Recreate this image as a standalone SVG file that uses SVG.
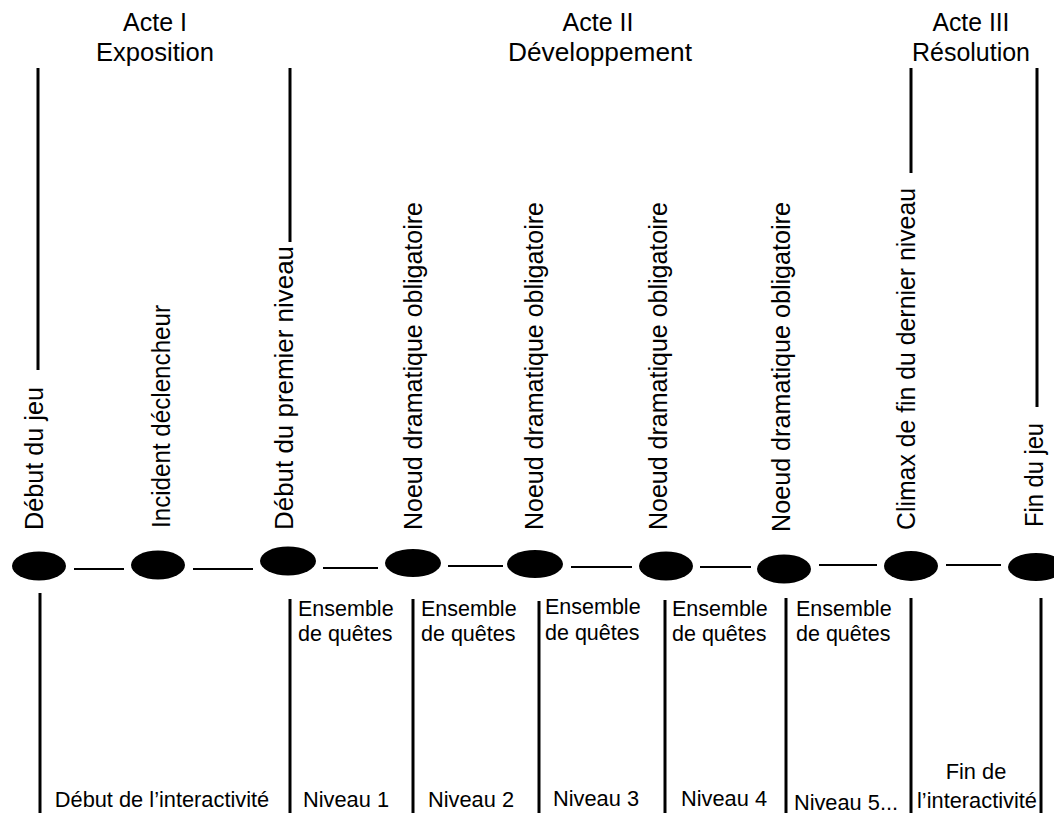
<svg xmlns="http://www.w3.org/2000/svg" width="1054" height="813" viewBox="0 0 1054 813">
<style>
.bg{fill:#fff}
.dot{fill:#000}
.rule{stroke:#000;stroke-width:3;fill:none}
.link{stroke:#000;stroke-width:2;fill:none}
.head{font-family:"Liberation Sans",Arial,sans-serif;font-size:25px;fill:#000;text-anchor:middle}
.vt{font-family:"Liberation Sans",Arial,sans-serif;font-size:26px;fill:#000}
.lb{font-family:"Liberation Sans",Arial,sans-serif;font-size:21.5px;fill:#000}
.lc{font-family:"Liberation Sans",Arial,sans-serif;font-size:21.8px;fill:#000;text-anchor:middle}
</style>
<rect class="bg" x="0" y="0" width="1054" height="813"/>

<g id="headings">
<text class="head" x="155" y="31" textLength="64" lengthAdjust="spacingAndGlyphs">Acte I</text>
<text class="head" x="155" y="61" textLength="118" lengthAdjust="spacingAndGlyphs">Exposition</text>
<text class="head" x="598" y="31" textLength="71" lengthAdjust="spacingAndGlyphs">Acte II</text>
<text class="head" x="600" y="61" textLength="184" lengthAdjust="spacingAndGlyphs">Développement</text>
<text class="head" x="971" y="31" textLength="77" lengthAdjust="spacingAndGlyphs">Acte III</text>
<text class="head" x="971" y="61" textLength="118" lengthAdjust="spacingAndGlyphs">Résolution</text>
</g>

<g id="dividers">
<line class="rule" x1="38" y1="68" x2="38" y2="370"/>
<line class="rule" x1="290" y1="68" x2="290" y2="242"/>
<line class="rule" x1="911" y1="68" x2="911" y2="173"/>
<line class="rule" x1="1037" y1="68" x2="1037" y2="407"/>
<line class="rule" x1="40" y1="593" x2="40" y2="813"/>
<line class="rule" x1="290" y1="599" x2="290" y2="813"/>
<line class="rule" x1="413" y1="599" x2="413" y2="813"/>
<line class="rule" x1="539" y1="601" x2="539" y2="813"/>
<line class="rule" x1="665" y1="600" x2="665" y2="813"/>
<line class="rule" x1="786" y1="598" x2="786" y2="813"/>
<line class="rule" x1="911" y1="598" x2="911" y2="813"/>
<line class="rule" x1="1041" y1="598" x2="1041" y2="813"/>
</g>

<g id="connectors">
<line class="link" x1="74" y1="569" x2="124" y2="569"/>
<line class="link" x1="193" y1="569" x2="253" y2="569"/>
<line class="link" x1="323" y1="568" x2="378" y2="568"/>
<line class="link" x1="448" y1="566" x2="503" y2="566"/>
<line class="link" x1="571" y1="567" x2="632" y2="567"/>
<line class="link" x1="700" y1="567" x2="751" y2="567"/>
<line class="link" x1="819" y1="565" x2="877" y2="565"/>
<line class="link" x1="946" y1="565" x2="1001" y2="565"/>
</g>

<g id="node-debut-jeu">
<ellipse class="dot" cx="39" cy="566" rx="27" ry="14.5"/>
<text class="vt" transform="translate(43,530) rotate(-90)" textLength="143" lengthAdjust="spacingAndGlyphs">Début du jeu</text>
</g>
<g id="node-incident">
<ellipse class="dot" cx="158" cy="565" rx="27" ry="14.5"/>
<text class="vt" transform="translate(170,528) rotate(-90)" textLength="223" lengthAdjust="spacingAndGlyphs">Incident déclencheur</text>
</g>
<g id="node-premier-niveau">
<ellipse class="dot" cx="288" cy="561" rx="28" ry="14.5"/>
<text class="vt" transform="translate(293,530) rotate(-90)" textLength="284" lengthAdjust="spacingAndGlyphs">Début du premier niveau</text>
</g>
<g id="node-noeud-1">
<ellipse class="dot" cx="413" cy="563" rx="28" ry="14"/>
<text class="vt" transform="translate(422,530) rotate(-90)" textLength="328" lengthAdjust="spacingAndGlyphs">Noeud dramatique obligatoire</text>
</g>
<g id="node-noeud-2">
<ellipse class="dot" cx="535" cy="564" rx="28" ry="14"/>
<text class="vt" transform="translate(543,530) rotate(-90)" textLength="328" lengthAdjust="spacingAndGlyphs">Noeud dramatique obligatoire</text>
</g>
<g id="node-noeud-3">
<ellipse class="dot" cx="666" cy="566" rx="27" ry="14.5"/>
<text class="vt" transform="translate(667,530) rotate(-90)" textLength="328" lengthAdjust="spacingAndGlyphs">Noeud dramatique obligatoire</text>
</g>
<g id="node-noeud-4">
<ellipse class="dot" cx="784" cy="569" rx="27" ry="14.5"/>
<text class="vt" transform="translate(790,532) rotate(-90)" textLength="330" lengthAdjust="spacingAndGlyphs">Noeud dramatique obligatoire</text>
</g>
<g id="node-climax">
<ellipse class="dot" cx="911" cy="566" rx="27" ry="15"/>
<text class="vt" transform="translate(915,530) rotate(-90)" textLength="342" lengthAdjust="spacingAndGlyphs">Climax de fin du dernier niveau</text>
</g>
<g id="node-fin-jeu">
<ellipse class="dot" cx="1036" cy="567" rx="28" ry="14"/>
<text class="vt" transform="translate(1043,527) rotate(-90)" textLength="104" lengthAdjust="spacingAndGlyphs">Fin du jeu</text>
</g>

<g id="quest-sets">
<text class="lb" x="298" y="616">Ensemble</text>
<text class="lb" x="298" y="641">de quêtes</text>
<text class="lb" x="421" y="616">Ensemble</text>
<text class="lb" x="421" y="641">de quêtes</text>
<text class="lb" x="545" y="614">Ensemble</text>
<text class="lb" x="545" y="640">de quêtes</text>
<text class="lb" x="672" y="616">Ensemble</text>
<text class="lb" x="672" y="641">de quêtes</text>
<text class="lb" x="796" y="616">Ensemble</text>
<text class="lb" x="796" y="641">de quêtes</text>
</g>

<g id="levels">
<text class="lc" x="162" y="807">Début de l’interactivité</text>
<text class="lc" x="346" y="807">Niveau 1</text>
<text class="lc" x="471" y="807">Niveau 2</text>
<text class="lc" x="596" y="806">Niveau 3</text>
<text class="lc" x="724" y="806">Niveau 4</text>
<text class="lc" x="846" y="810">Niveau 5...</text>
<text class="lc" x="976" y="779">Fin de</text>
<text class="lc" x="977" y="808">l’interactivité</text>
</g>
</svg>
